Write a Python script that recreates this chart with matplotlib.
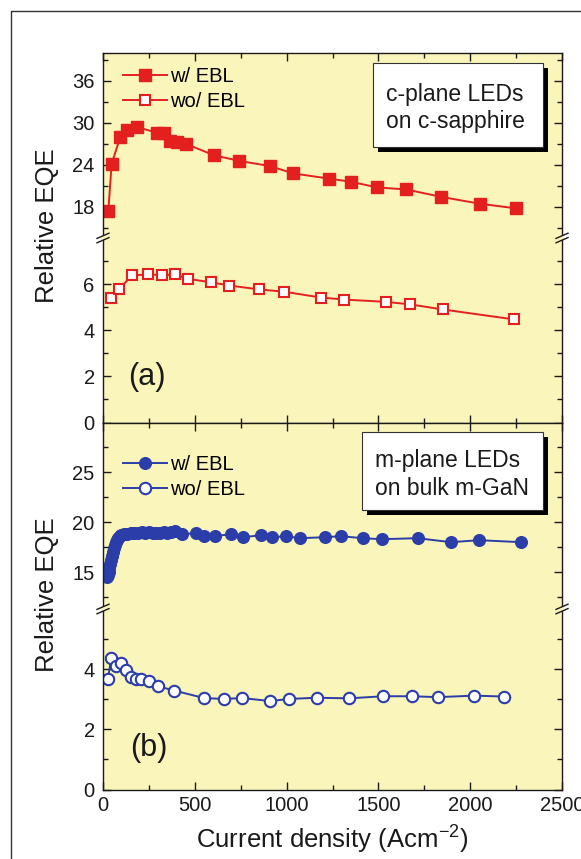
import matplotlib
matplotlib.use('Agg')
import matplotlib.pyplot as plt
from matplotlib.lines import Line2D
from matplotlib.patches import Rectangle
from matplotlib.ticker import MultipleLocator, FixedLocator

plt.rcParams['font.family'] = ['Liberation Sans', 'DejaVu Sans']
plt.rcParams['mathtext.fontset'] = 'custom'
plt.rcParams['mathtext.rm'] = 'Liberation Sans'
plt.rcParams['mathtext.it'] = 'Liberation Sans:italic'
plt.rcParams['mathtext.bf'] = 'Liberation Sans:bold'
plt.rcParams['mathtext.default'] = 'regular'

# ---------------- data ----------------
# (a) c-plane LEDs on c-sapphire
c_x_ebl = [29, 47, 93, 129, 183, 292, 332, 365, 405, 450, 605, 741, 910, 1037,
           1233, 1351, 1493, 1652, 1840, 2055, 2249]
c_y_ebl = [17.4, 24.1, 27.9, 29.0, 29.4, 28.6, 28.6, 27.4, 27.3, 27.0, 25.35,
           24.55, 23.8, 22.75, 22.0, 21.55, 20.75, 20.45, 19.4, 18.4, 17.75]
c_x_wo = [42, 87, 160, 247, 320, 392, 461, 588, 688, 851, 988, 1186, 1315,
          1543, 1674, 1852, 2239]
c_y_wo = [5.41, 5.80, 6.38, 6.42, 6.39, 6.42, 6.23, 6.08, 5.94, 5.77, 5.67,
          5.42, 5.33, 5.23, 5.12, 4.90, 4.47]

# (b) m-plane LEDs on bulk m-GaN
m_x_ebl = [20, 25, 30, 35, 40, 45, 50, 55, 60, 65, 70, 75, 80, 90, 100, 115,
           130, 150, 170, 190, 210, 230, 250, 270, 290, 310, 330, 350, 370,
           390, 430, 505, 550, 610, 695, 765, 860, 920, 995, 1075, 1210, 1295,
           1415, 1517, 1713, 1895, 2048, 2277]
m_y_ebl = [14.5, 14.7, 15.0, 15.4, 15.8, 16.2, 16.6, 17.0, 17.4, 17.7, 18.0,
           18.2, 18.4, 18.6, 18.7, 18.8, 18.8, 18.9, 18.9, 18.9, 19.0, 18.9,
           19.0, 18.9, 18.9, 18.9, 19.0, 18.9, 19.0, 19.1, 18.8, 18.9, 18.6,
           18.6, 18.8, 18.5, 18.7, 18.5, 18.6, 18.4, 18.5, 18.6, 18.4, 18.3,
           18.4, 18.0, 18.2, 18.0]
m_x_wo = [27, 45, 72, 100, 127, 154, 181, 209, 249, 300, 387, 550, 659, 757,
          912, 1013, 1164, 1339, 1527, 1682, 1824, 2021, 2186]
m_y_wo = [3.68, 4.37, 4.12, 4.20, 3.97, 3.75, 3.68, 3.68, 3.60, 3.43, 3.29,
          3.04, 3.01, 3.04, 2.94, 3.01, 3.05, 3.03, 3.10, 3.10, 3.07, 3.12, 3.09]

x_range = (0, 2500)
a_up_lim, a_lo_lim = (13.5, 40), (0, 8.0)
b_up_lim, b_lo_lim = (11.3, 30), (0, 6.0)
a_up_major, a_up_minor = [18, 24, 30, 36], [15, 21, 27, 33, 39]
a_lo_major, a_lo_minor = [0, 2, 4, 6], [1, 3, 5, 7]
b_up_major, b_up_minor = [15, 20, 25], [12.5, 17.5, 22.5, 27.5]
b_lo_major, b_lo_minor = [0, 2, 4], [1, 3, 5]
series_labels = ['w/ EBL', 'wo/ EBL']

# ---------------- layout ----------------
W, H = 581, 859
fig = plt.figure(figsize=(W / 100, H / 100), dpi=100)
fig.patch.set_facecolor('white')

def fx(px):
    return px / W

def fy(py):
    return 1 - py / H

YEL = '#FAF5BA'
RED = '#E4201F'
BLUE = '#2B3DA8'
INK = '#1a1a1a'

L, R = 103, 562

def add_ax(top, bottom):
    return fig.add_axes([fx(L), fy(bottom), fx(R) - fx(L), fy(top) - fy(bottom)])

axA_up = add_ax(53, 238)
axA_lo = add_ax(238, 422.5)
axB_up = add_ax(422.5, 609)
axB_lo = add_ax(609, 789.5)

def style(ax, ylim, major, minor, top, bottom, xlabels=False):
    ax.set_facecolor(YEL)
    ax.set_xlim(*x_range)
    ax.set_ylim(*ylim)
    ax.xaxis.set_major_locator(MultipleLocator(500))
    ax.xaxis.set_minor_locator(MultipleLocator(250))
    ax.yaxis.set_major_locator(FixedLocator(major))
    ax.yaxis.set_minor_locator(FixedLocator(minor))
    ax.tick_params(which='both', direction='in', left=True, right=True,
                   top=top, bottom=bottom, labelbottom=xlabels,
                   labelleft=True, labelright=False, labeltop=False,
                   labelsize=14.5, width=1, color=INK, labelcolor=INK)
    ax.tick_params(which='major', length=6)
    ax.tick_params(which='minor', length=3.5)
    ax.tick_params(axis='x', pad=5)
    ax.tick_params(axis='y', pad=6)
    for s in ax.spines.values():
        s.set_linewidth(1)
        s.set_color(INK)
    ax.spines['top'].set_visible(top)
    ax.spines['bottom'].set_visible(bottom)

style(axA_up, a_up_lim, a_up_major, a_up_minor, True, False)
style(axA_lo, a_lo_lim, a_lo_major, a_lo_minor, False, True)
style(axB_up, b_up_lim, b_up_major, b_up_minor, True, False)
style(axB_lo, b_lo_lim, b_lo_major, b_lo_minor, False, True, xlabels=True)

# ---------------- data lines ----------------
la1, = axA_up.plot(c_x_ebl, c_y_ebl, '-s', color=RED, mfc=RED, mec=RED,
                   ms=8, lw=1.4, label=series_labels[0])
la2, = axA_lo.plot(c_x_wo, c_y_wo, '-s', color=RED, mfc='white', mec=RED,
                   ms=7.3, mew=1.5, lw=1.4, label=series_labels[1])
lb1, = axB_up.plot(m_x_ebl, m_y_ebl, '-o', color=BLUE, mfc=BLUE, mec=BLUE,
                   ms=8.4, lw=1.4, label=series_labels[0])
lb2, = axB_lo.plot(m_x_wo, m_y_wo, '-o', color=BLUE, mfc='white', mec=BLUE,
                   ms=8.2, mew=1.5, lw=1.4, label=series_labels[1])

def legend(ax, handles, top_px):
    ax.legend(handles=handles, loc='upper left',
              bbox_to_anchor=(fx(123), fy(top_px)), bbox_transform=fig.transFigure,
              frameon=False, fontsize=14.5, handlelength=2.2, handletextpad=0.15,
              labelspacing=0.28, borderpad=0, borderaxespad=0, numpoints=1)

legend(axA_up, [la1, la2], 67)
legend(axB_up, [lb1, lb2], 455)

# ---------------- break marks ----------------
def brk(xp, yp):
    fig.add_artist(Rectangle((fx(xp - 2), fy(yp + 2.2)), 4 / W, 4.4 / H,
                             transform=fig.transFigure, facecolor=YEL,
                             edgecolor='none', zorder=5))
    for d in (-2.2, 2.2):
        fig.add_artist(Line2D([fx(xp - 6), fx(xp + 6)],
                              [fy(yp + d + 2.6), fy(yp + d - 2.6)],
                              transform=fig.transFigure, color=INK, lw=1,
                              zorder=6))

for yb in (238, 609):
    brk(L, yb)
    brk(R, yb)

# ---------------- annotation boxes ----------------
def note(x0, y0, x1, y1, lines, tx, ty):
    fig.add_artist(Rectangle((fx(x0 + 5), fy(y1 + 5)), (x1 - x0) / W, (y1 - y0) / H,
                             transform=fig.transFigure, facecolor='black',
                             edgecolor='none', zorder=7))
    fig.add_artist(Rectangle((fx(x0), fy(y1)), (x1 - x0) / W, (y1 - y0) / H,
                             transform=fig.transFigure, facecolor='white',
                             edgecolor='#333333', lw=0.8, zorder=8))
    for t, yy in zip(lines, ty):
        fig.text(fx(tx), fy(yy), t, ha='left', va='center', fontsize=16.5,
                 color=INK, zorder=9)

note(373, 63, 543, 147, ['c-plane LEDs', 'on c-sapphire'], 386, [95, 121.7])
note(362, 432, 543, 510, ['m-plane LEDs', 'on bulk m-GaN'], 375, [460, 488.3])

fig.text(fx(128), fy(377), '(a)', ha='left', va='center', fontsize=22, color=INK)
fig.text(fx(130), fy(748), '(b)', ha='left', va='center', fontsize=22, color=INK)

# ---------------- axis labels ----------------
fig.text(fx(47), fy(226), 'Relative EQE', rotation=90, ha='center', va='center',
         fontsize=18.5, color=INK)
fig.text(fx(47), fy(595), 'Relative EQE', rotation=90, ha='center', va='center',
         fontsize=18.5, color=INK)
fig.text(fx(332), fy(840), 'Current density (Acm$^{\\mathregular{-2}}$)',
         ha='center', va='center', fontsize=18.5, color=INK)

# outer frame
fig.add_artist(Line2D([fx(11), fx(11), 1.0], [0.0, fy(11), fy(11)],
                      transform=fig.transFigure, color='#333333', lw=1))

fig.savefig('out.png', dpi=100, facecolor='white')
